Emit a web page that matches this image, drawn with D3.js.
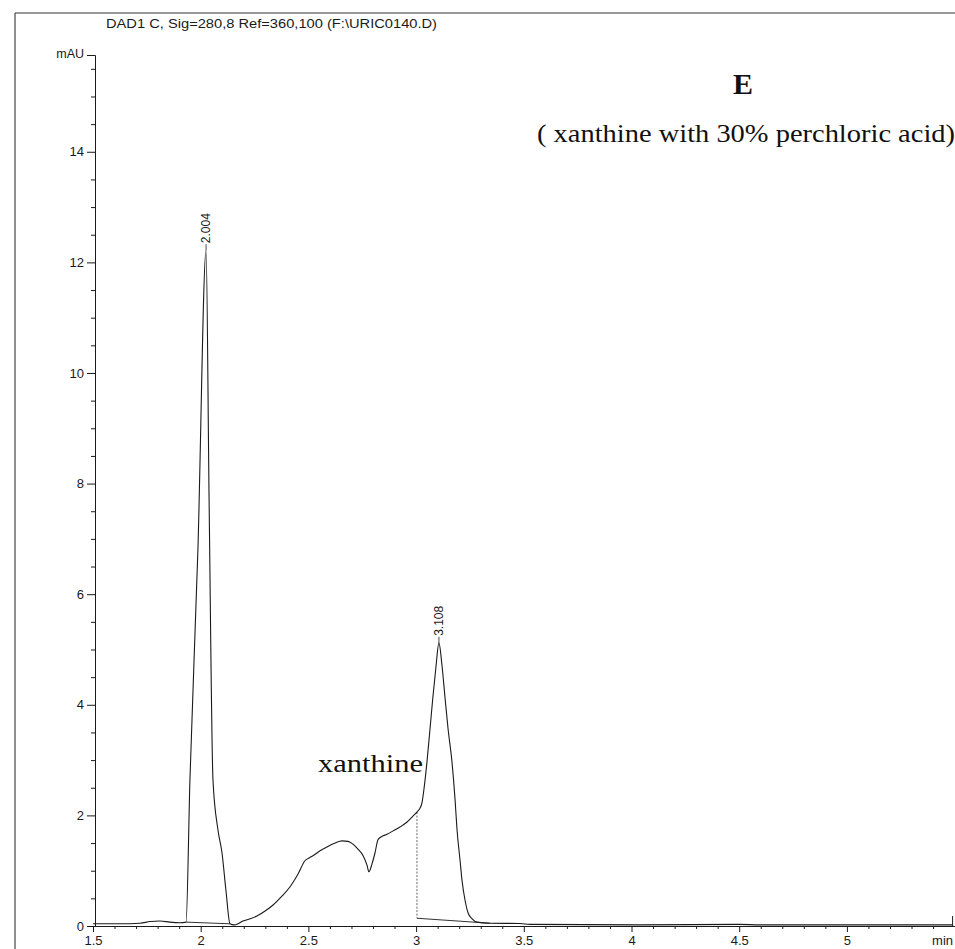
<!DOCTYPE html>
<html>
<head>
<meta charset="utf-8">
<script src="https://cdn.jsdelivr.net/npm/d3@7"></script>
<style>
  html, body { margin: 0; padding: 0; background: #fff; }
  svg { display: block; }
</style>
</head>
<body>
<script>
// ---- data ----
const times = [1.5, 1.625, 1.718, 1.765, 1.811, 1.857, 1.904, 1.932,
  1.950, 1.987, 2.025, 2.039, 2.057, 2.080, 2.099, 2.117, 2.136,
  2.155, 2.173, 2.196, 2.229, 2.261, 2.299, 2.336, 2.377, 2.415, 2.452, 2.484,
  2.503, 2.521, 2.554, 2.586, 2.624, 2.656, 2.684, 2.707, 2.730, 2.754, 2.772,
  2.781, 2.795, 2.809, 2.823, 2.837, 2.865, 2.893, 2.925, 2.958, 2.986, 3.004,
  3.018, 3.027, 3.036, 3.050, 3.064, 3.078, 3.092, 3.106, 3.120, 3.134, 3.148,
  3.167, 3.181, 3.190, 3.204, 3.213, 3.227, 3.241, 3.260, 3.283, 3.343, 3.482,
  3.529, 4.04, 4.50, 4.597, 5.49];
const signal = [0.04, 0.04, 0.05, 0.08, 0.09, 0.07, 0.06, 0.07,
  2.64, 6.80, 12.22, 7.70, 2.64, 1.74, 1.32, 0.65, 0.04,
  0.02, 0.04, 0.09, 0.13, 0.18, 0.27, 0.38, 0.54, 0.71, 0.94, 1.18,
  1.23, 1.27, 1.36, 1.43, 1.50, 1.54, 1.53, 1.48, 1.39, 1.27, 1.10,
  0.98, 1.12, 1.32, 1.56, 1.61, 1.66, 1.72, 1.79, 1.88, 1.99, 2.06,
  2.13, 2.22, 2.46, 2.95, 3.54, 4.14, 4.68, 5.12, 4.72, 4.14, 3.58,
  2.95, 2.28, 1.74, 1.19, 0.83, 0.47, 0.24, 0.13, 0.07, 0.05, 0.045,
  0.03, 0.02, 0.03, 0.02, 0.02];

const peakLabels = ["2.004", "3.108"];
const peakTimes = [2.025, 3.106];
const peakHeights = [12.22, 5.12];

// integration baselines (start/end time and value) for each peak
const baseStartT = [1.932, 3.004];
const baseStartV = [0.07, 0.14];
const baseEndT = [2.136, 3.343];
const baseEndV = [0.04, 0.05];
const dropT = [3.004];
const dropTopV = [2.06];

const xTickValues = [1.5, 2, 2.5, 3, 3.5, 4, 4.5, 5];
const yTickValues = [0, 2, 4, 6, 8, 10, 12, 14];

const signalTitle = "DAD1 C, Sig=280,8 Ref=360,100 (F:\\URIC0140.D)";
const panelLetter = "E";
const panelNote = "( xanthine with 30% perchloric acid)";
const compoundLabel = "xanthine";

// ---- drawing ----
const W = 955, H = 949;
const svg = d3.select("body").append("svg").attr("width", W).attr("height", H);
svg.append("rect").attr("width", W).attr("height", H).attr("fill", "#fff");

const x = d3.scaleLinear().domain([1.5, 5.5]).range([93, 954.6]);
const y = d3.scaleLinear().domain([0, 15.75]).range([926, 55]);

const ink = "#1a1a1a";
const sans = "'Liberation Sans', Arial, sans-serif";
const serif = "'Liberation Serif', 'Times New Roman', serif";

// page frame lines (scan border)
svg.append("line").attr("x1", 15).attr("x2", W).attr("y1", 13).attr("y2", 13)
  .attr("stroke", "#333").attr("stroke-width", 1.2);
svg.append("line").attr("x1", 15).attr("x2", 15).attr("y1", 13).attr("y2", H)
  .attr("stroke", "#444").attr("stroke-width", 1.2);

// header
svg.append("text").attr("x", 106).attr("y", 28)
  .attr("font-family", sans).attr("font-size", 12.5)
  .attr("textLength", 331).attr("lengthAdjust", "spacingAndGlyphs")
  .attr("fill", ink).text(signalTitle);
svg.append("text").attr("x", 84).attr("y", 58).attr("text-anchor", "end")
  .attr("font-family", sans).attr("font-size", 12.5).attr("fill", ink).text("mAU");

// y axis
const yMinor = d3.range(0, 15.75, 0.5).filter(v => v % 2 !== 0);
svg.append("g").attr("transform", `translate(${x(1.5) + 2},0)`)
  .call(d3.axisLeft(y).tickValues(yMinor).tickSize(4).tickFormat(""))
  .call(g => g.select(".domain").remove())
  .call(g => g.selectAll("line").attr("stroke", ink));
const yAxis = svg.append("g").attr("transform", `translate(${x(1.5) + 2},0)`)
  .call(d3.axisLeft(y).tickValues(yTickValues).tickSize(8).tickSizeOuter(8)
    .tickPadding(3).tickFormat(d3.format("d")));
yAxis.select(".domain").attr("stroke", ink);
yAxis.selectAll("line").attr("stroke", ink);
yAxis.selectAll("text").attr("font-family", sans).attr("font-size", 13).attr("fill", ink);

// x axis
const xMinor = d3.range(15, 55).map(d => d / 10).filter(v => Math.abs(v * 2 - Math.round(v * 2)) > 1e-6);
svg.append("g").attr("transform", `translate(0,${y(0)})`)
  .call(d3.axisBottom(x).tickValues(xMinor).tickSize(3).tickFormat(""))
  .call(g => g.select(".domain").remove())
  .call(g => g.selectAll("line").attr("stroke", ink));
const xAxis = svg.append("g").attr("transform", `translate(0,${y(0)})`)
  .call(d3.axisBottom(x).tickValues(xTickValues).tickSize(6).tickSizeOuter(0)
    .tickPadding(4).tickFormat(d => String(d)));
xAxis.select(".domain").attr("stroke", ink).attr("stroke-width", 1.2);
xAxis.selectAll("line").attr("stroke", ink);
xAxis.selectAll("text").attr("font-family", sans).attr("font-size", 13).attr("fill", ink);
svg.append("line").attr("x1", x(5.5) - 2).attr("x2", x(5.5) - 2)
  .attr("y1", y(0)).attr("y2", y(0) - 10).attr("stroke", ink);
svg.append("text").attr("x", 953).attr("y", 945).attr("text-anchor", "end")
  .attr("font-family", sans).attr("font-size", 13).attr("fill", ink).text("min");

// integration baselines + drop line
baseStartT.forEach((t, i) => {
  svg.append("line").attr("x1", x(t)).attr("y1", y(baseStartV[i]))
    .attr("x2", x(baseEndT[i])).attr("y2", y(baseEndV[i]))
    .attr("stroke", "#333").attr("stroke-width", 1);
});
dropT.forEach((t, i) => {
  svg.append("line").attr("x1", x(t)).attr("x2", x(t))
    .attr("y1", y(dropTopV[i])).attr("y2", y(baseStartV[1]))
    .attr("stroke", "#666").attr("stroke-width", 1).attr("stroke-dasharray", "2,1.5");
});

// signal trace
const pts = times.map((t, i) => [t, signal[i]]);
svg.append("path").datum(pts)
  .attr("fill", "none").attr("stroke", ink).attr("stroke-width", 1.1)
  .attr("stroke-linejoin", "round")
  .attr("d", d3.line().x(d => x(d[0])).y(d => y(d[1])).curve(d3.curveMonotoneX));

// peak retention-time labels
peakLabels.forEach((lab, i) => {
  const px = x(peakTimes[i]), py = y(peakHeights[i]);
  svg.append("line").attr("x1", px).attr("x2", px).attr("y1", py).attr("y2", py - 6)
    .attr("stroke", ink).attr("stroke-width", 0.8);
  svg.append("text")
    .attr("transform", `translate(${px + 4},${py - 7}) rotate(-90)`)
    .attr("text-anchor", "start")
    .attr("font-family", sans).attr("font-size", 12).attr("fill", ink).text(lab);
});

// annotations
svg.append("text").attr("x", 743).attr("y", 94).attr("text-anchor", "middle")
  .attr("font-family", serif).attr("font-weight", "bold").attr("font-size", 30)
  .attr("fill", "#111").text(panelLetter);
svg.append("text").attr("x", 537).attr("y", 142)
  .attr("font-family", serif).attr("font-size", 26)
  .attr("textLength", 418).attr("lengthAdjust", "spacingAndGlyphs")
  .attr("fill", "#111").text(panelNote);
svg.append("text").attr("x", 318).attr("y", 772)
  .attr("font-family", serif).attr("font-size", 26)
  .attr("textLength", 105).attr("lengthAdjust", "spacingAndGlyphs")
  .attr("fill", "#111").text(compoundLabel);
</script>
</body>
</html>
